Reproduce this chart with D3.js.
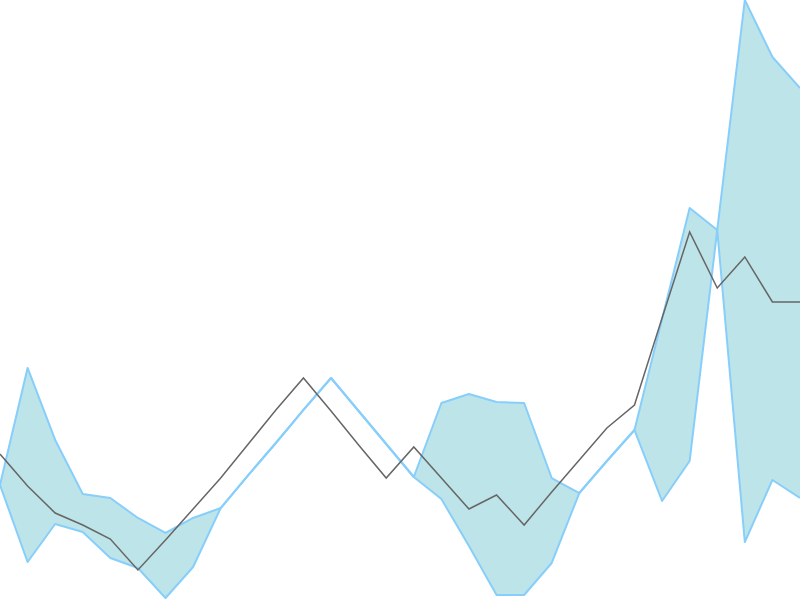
<!DOCTYPE html>
<html>
<head>
<meta charset="utf-8">
<script src="https://cdn.jsdelivr.net/npm/d3@7"></script>
<style>
html,body{margin:0;padding:0;background:#fff;overflow:hidden;}
svg{display:block;}
</style>
</head>
<body>
<svg id="chart" width="800" height="600"></svg>
<script>
const categories = d3.range(30);
const upperValues = [19.17,38.67,26.67,17.67,17,13.67,11.17,13.67,15.33,20.83,26.17,31.67,37,31.5,26,20.5,32.83,34.33,33,32.83,20.33,17.83,23.17,28.33,46.83,65.33,61.67,100,90.5,85.33];
const lowerValues = [19.17,6.33,12.67,11.33,7,5.33,0.33,5.5,15.33,20.83,26.17,31.67,37,31.5,26,20.5,16.83,9,0.83,0.83,6.17,17.83,23.17,28.33,16.5,23.17,61.67,9.67,20,17];
const lineValues = [24.33,19,14.5,12.5,10.17,5,10,15.17,20.33,26,31.67,37,31.5,25.83,20.33,25.5,20.33,15.17,17.5,12.5,18,23.33,28.67,32.5,47,61.33,52,57.17,49.67,49.67];

const width = 800, height = 600;
const svg = d3.select("#chart");
const x = d3.scaleLinear().domain([0, categories.length - 1]).range([0, width]);
const y = d3.scaleLinear().domain([0, 100]).range([height, 0]);

const rows = categories.map((c, i) => ({c, hi: upperValues[i], lo: lowerValues[i], v: lineValues[i]}));

svg.append("path")
  .datum(rows)
  .attr("fill", "#bde4e9")
  .attr("stroke", "none")
  .attr("d", d3.area().x(d => x(d.c)).y0(d => y(d.lo)).y1(d => y(d.hi)));

const edge = acc => d3.line().x(d => x(d.c)).y(d => y(acc(d)));
svg.append("path").datum(rows)
  .attr("fill", "none").attr("stroke", "#87cefa").attr("stroke-width", 2)
  .attr("stroke-linejoin", "round")
  .attr("d", edge(d => d.hi));
svg.append("path").datum(rows)
  .attr("fill", "none").attr("stroke", "#87cefa").attr("stroke-width", 2)
  .attr("stroke-linejoin", "round")
  .attr("d", edge(d => d.lo));

svg.append("path").datum(rows)
  .attr("fill", "none").attr("stroke", "#666666").attr("stroke-width", 1.5)
  .attr("d", edge(d => d.v));
</script>
</body>
</html>
